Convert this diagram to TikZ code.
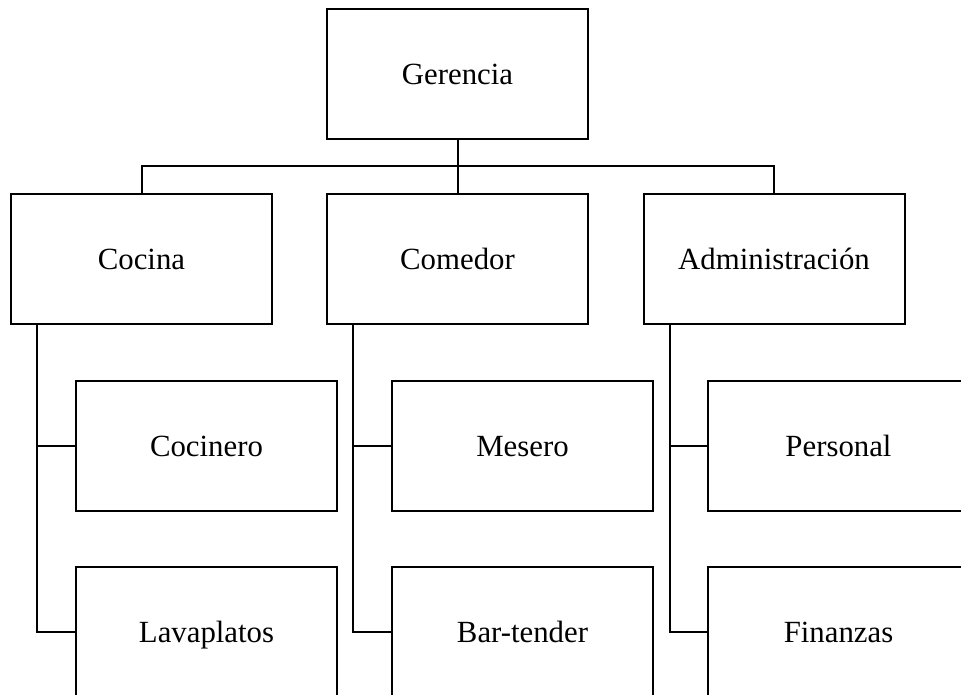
\documentclass[tikz,border=0pt]{standalone}
\usepackage{fontspec}
\setmainfont{Liberation Serif}
\begin{document}
\begin{tikzpicture}[x=1pt,y=-1pt,
  orgbox/.style={draw=black, line width=2pt, minimum width=261pt, minimum height=130pt, inner sep=0pt, font=\fontsize{30.8}{36}\selectfont, text height=21pt, text depth=0pt, text=black, fill=white},
  conn/.style={draw=black, line width=2pt}]
\clip (0,0) rectangle (961,695);
\fill[white] (0,0) rectangle (961,695);
\node[orgbox] (ger) at (457.5,74.5) {Gerencia};
\node[orgbox] (coc) at (141.5,259) {Cocina};
\node[orgbox] (com) at (457.5,259) {Comedor};
\node[orgbox] (adm) at (774,259) {Administración};
\node[orgbox] (cocn) at (206.5,446) {Cocinero};
\node[orgbox] (lav) at (206.5,632) {Lavaplatos};
\node[orgbox] (mes) at (522.5,446) {Mesero};
\node[orgbox] (bar) at (522.5,632) {Bar-tender};
\node[orgbox] (per) at (838.5,446) {Personal};
\node[orgbox] (fin) at (838.5,632) {Finanzas};
\draw[conn] (ger.south) -- (com.north);
\draw[conn] (coc.north) -- ++(0,-27) -| (adm.north);
\draw[conn] ([xshift=27pt]coc.south west) |- (lav.west);
\draw[conn] ([xshift=27pt]coc.south west |- cocn.west) -- (cocn.west);
\draw[conn] ([xshift=27pt]com.south west) |- (bar.west);
\draw[conn] ([xshift=27pt]com.south west |- mes.west) -- (mes.west);
\draw[conn] ([xshift=27pt]adm.south west) |- (fin.west);
\draw[conn] ([xshift=27pt]adm.south west |- per.west) -- (per.west);
\end{tikzpicture}
\end{document}
